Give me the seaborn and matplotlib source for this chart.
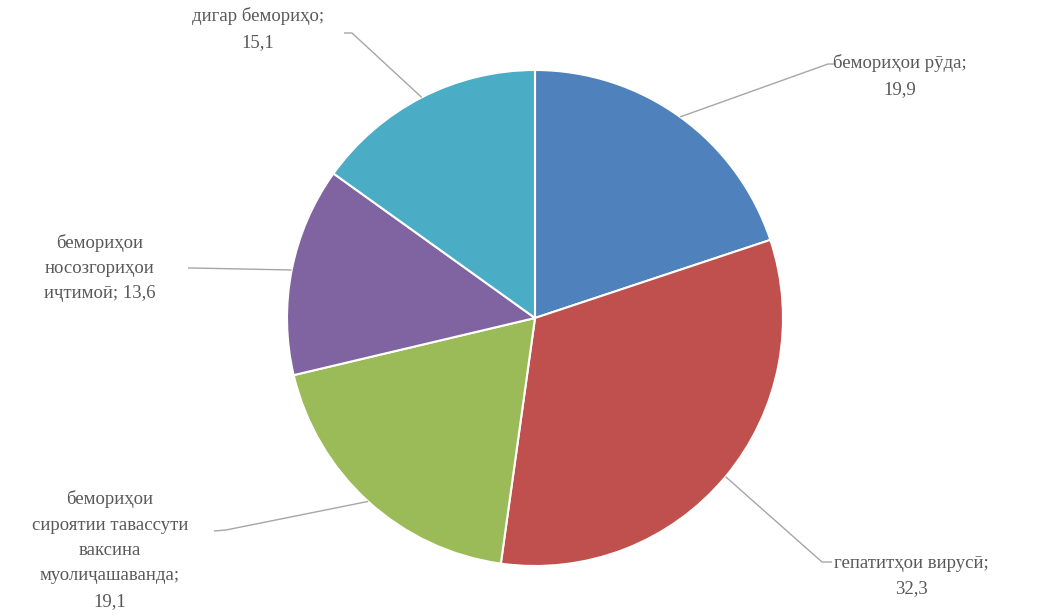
import numpy as np
import matplotlib
matplotlib.use("Agg")
import matplotlib.pyplot as plt
import seaborn as sns

# данные диаграммы
labels = ["бемориҳои рӯда;\n19,9",
          "гепатитҳои вирусӣ;\n32,3",
          "бемориҳои\nсироятии тавассути\nваксина\nмуолиҷашаванда;\n19,1",
          "бемориҳои\nносозгориҳои\nиҷтимоӣ; 13,6",
          "дигар бемориҳо;\n15,1"]
values = [19.9, 32.3, 19.1, 13.6, 15.1]
colors = ["#4F81BD", "#C0504D", "#9BBB59", "#8064A2", "#4BACC6"]

sns.set_theme(style="white")
plt.rcParams['font.family'] = ['Liberation Serif', 'DejaVu Serif']

W, H = 1051, 615
fig = plt.figure(figsize=(W / 100, H / 100), dpi=100)
ax = fig.add_axes([0, 0, 1, 1])

cx, cy, R = 535, H - 318, 248
wedges, _ = ax.pie(values, colors=colors, startangle=90, counterclock=False,
                   center=(cx, cy), radius=R, frame=True,
                   wedgeprops=dict(edgecolor="white", linewidth=1.5))
ax.set_xlim(0, W)
ax.set_ylim(0, H)
ax.axis("off")

# раскладка подписей: (точка излома линии, конец линии, центр текста)
layout = [
    ((828, 64), (836, 64), (900, 76)),
    ((822, 562), (832, 562), (911, 576)),
    ((226, 530), (214, 531), (110, 550)),
    ((192, 268), (188, 268), (100, 268)),
    ((352, 33), (344, 33), (258, 29)),
]

for w, lab, (elbow, end, tpos) in zip(wedges, labels, layout):
    mid = np.deg2rad((w.theta1 + w.theta2) / 2)
    sx, sy = cx + R * np.cos(mid), cy + R * np.sin(mid)
    xs = [sx, elbow[0], end[0]]
    ys = [sy, H - elbow[1], H - end[1]]
    ax.plot(xs, ys, color="#A6A6A6", lw=1.0, solid_capstyle="butt")
    ax.text(tpos[0], H - tpos[1], lab, ha="center", va="center",
            fontsize=13.5, color="#595959", linespacing=1.65)

fig.savefig("out.png", dpi=100)
